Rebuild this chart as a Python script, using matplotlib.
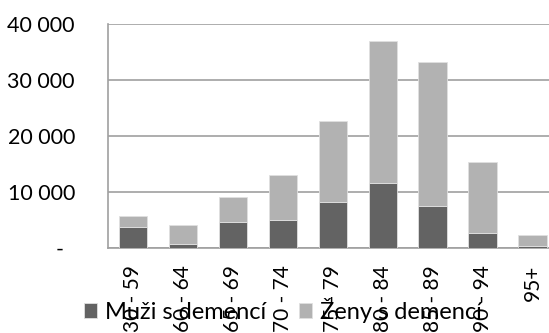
import matplotlib.pyplot as plt
import numpy as np

# age groups and counts of people with dementia
groups = ["30 - 59", "60 - 64", "65 - 69", "70 - 74", "75 - 79",
          "80 - 84", "85 - 89", "90 - 94", "95+"]
men = [3740, 710, 4630, 4990, 8370, 11750, 7660, 2790, 360]
women = [2020, 3500, 4510, 8190, 14300, 25220, 25630, 12640, 1950]
yticks = [0, 10000, 20000, 30000, 40000]
ylabels = ["-  ", "10 000", "20 000", "30 000", "40 000"]

plt.rcParams['font.family'] = ['Lato', 'DejaVu Sans']

fig = plt.figure(figsize=(5.49, 3.33), dpi=100)
ax = fig.add_axes([0.1973, 0.254, 0.818, 0.673])

x = np.arange(len(groups))
w = 0.57
ax.bar(x, men, w, color='#636363', edgecolor='#e0e0e0', linewidth=0.6,
       label="Muži s demencí", zorder=3)
ax.bar(x, women, w, bottom=men, color='#b2b2b2', edgecolor='#e0e0e0',
       linewidth=0.6, label="Ženy s demencí", zorder=3)

ax.set_xlim(-0.5, len(groups) - 0.5)
ax.set_ylim(0, 40000)
ax.set_yticks(yticks)
ax.set_yticklabels(ylabels, fontsize=15.5)
ax.set_xticks(x)
ax.set_xticklabels(groups, rotation=90, fontsize=15, va='top')
ax.tick_params(axis='y', length=0, pad=24)
ax.tick_params(axis='x', length=0, pad=12)

ax.yaxis.grid(True, color='#a0a0a0', linewidth=1.2, zorder=0)
for s in ['top', 'right']:
    ax.spines[s].set_visible(False)
ax.spines['left'].set_color('#a0a0a0')
ax.spines['bottom'].set_color('#a0a0a0')
ax.spines['left'].set_linewidth(1.2)
ax.spines['bottom'].set_linewidth(1.2)

fig.legend(loc='center', bbox_to_anchor=(0.515, 0.068), ncol=2, frameon=False,
           fontsize=17, handlelength=0.56, handleheight=0.56, handletextpad=0.33,
           columnspacing=1.4)

fig.savefig("out.png", dpi=100)
